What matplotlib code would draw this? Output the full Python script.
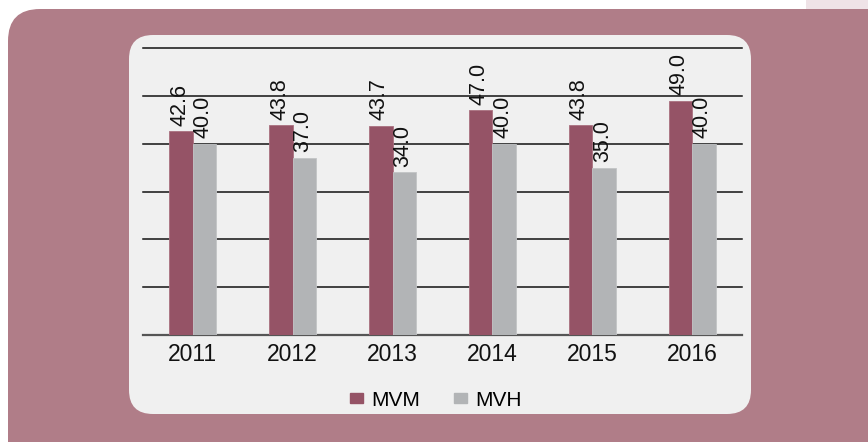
import matplotlib
matplotlib.use('Agg')
from matplotlib import pyplot as plt
from matplotlib.patches import FancyBboxPatch, Rectangle, Patch
import numpy as np

plt.rcParams['font.family'] = ['Liberation Sans', 'DejaVu Sans']

# data
years = ['2011', '2012', '2013', '2014', '2015', '2016']
mvm = [42.6, 43.8, 43.7, 47.0, 43.8, 49.0]
mvh = [40.0, 37.0, 34.0, 40.0, 35.0, 40.0]

mvm_color = '#955366'
mvh_color = '#b2b4b6'

W, H = 868, 442
fig = plt.figure(figsize=(W / 100, H / 100), dpi=100)
fig.patch.set_facecolor('white')

# background decoration in pixel coords
bg = fig.add_axes([0, 0, 1, 1])
bg.set_xlim(0, W)
bg.set_ylim(H, 0)
bg.axis('off')
bg.add_patch(Rectangle((806, 0), 70, 20, color='#efe3e7', lw=0))
bg.add_patch(FancyBboxPatch((8, 9), W + 40, H + 40,
                            boxstyle='round,pad=0,rounding_size=32',
                            fc='#b07d88', ec='none'))
bg.add_patch(FancyBboxPatch((129, 35), 622, 379,
                            boxstyle='round,pad=0,rounding_size=24',
                            fc='#f0f0f0', ec='none'))

# main chart
ax = fig.add_axes([143 / W, (H - 335) / H, 599 / W, 287 / H])
ax.patch.set_alpha(0)
x = np.arange(len(years))
w = 0.235
b1 = ax.bar(x - w / 2, mvm, w, color=mvm_color, ec='#a9707f', lw=0.6, label='MVM', zorder=3)
b2 = ax.bar(x + w / 2, mvh, w, color=mvh_color, ec='#c2c4c6', lw=0.6, label='MVH', zorder=3)

for bars, vals in [(b1, mvm), (b2, mvh)]:
    for rect, v in zip(bars, vals):
        ax.annotate('%.1f' % v, (rect.get_x() + rect.get_width() / 2, v),
                    xytext=(-1, 4), textcoords='offset points',
                    rotation=90, ha='center', va='bottom',
                    fontsize=15.5, color='#111111', zorder=4)

ax.set_xlim(-0.5, 5.5)
ax.set_ylim(0, 60)
ax.set_yticks([10, 20, 30, 40, 50, 60])
ax.yaxis.grid(True, color='#111111', lw=1.1, zorder=0)
for gl in ax.get_ygridlines():
    gl.set_clip_on(False)
ax.set_axisbelow(True)
ax.tick_params(axis='y', left=False, labelleft=False)
ax.set_xticks(x)
ax.set_xticklabels(years, fontsize=16.5, color='#111111')
ax.tick_params(axis='x', length=0, pad=6)
for s in ['top', 'right', 'left']:
    ax.spines[s].set_visible(False)
ax.spines['bottom'].set_color('#555555')
ax.spines['bottom'].set_linewidth(1.6)

handles = [Patch(color=mvm_color), Patch(color=mvh_color)]
fig.legend(handles, ['MVM', 'MVH'], loc='center', bbox_to_anchor=(436 / W, (H - 400) / H),
           ncol=2, frameon=False, fontsize=15, handlelength=0.62, handleheight=0.4,
           handletextpad=0.4, columnspacing=1.6)

fig.savefig('out.png', dpi=100)
